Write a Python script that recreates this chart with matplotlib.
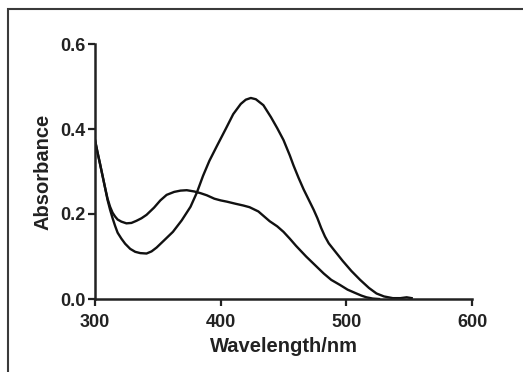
import numpy as np
import matplotlib
matplotlib.use("Agg")
from matplotlib import pyplot as plt
from matplotlib.patches import Rectangle

# spectrum with the big band at ~425 nm
wl_peak = [300, 302, 304, 306, 308, 310, 312, 314, 316, 318, 321, 324, 328, 332, 336,
           341, 345, 349, 355, 362, 369, 376, 381, 386, 391, 397, 404, 410, 416, 420,
           424, 428, 434, 440, 445, 450, 455, 458, 462, 466, 470, 474, 477, 480, 483,
           486, 490, 497, 504, 511, 518, 524, 530, 537, 543, 548, 552]
abs_peak = [0.374, 0.345, 0.318, 0.29, 0.262, 0.233, 0.21, 0.19, 0.172, 0.156, 0.142,
            0.13, 0.118, 0.111, 0.108, 0.107, 0.112, 0.121, 0.138, 0.158, 0.185, 0.217,
            0.25, 0.29, 0.325, 0.36, 0.4, 0.435, 0.459, 0.469, 0.473, 0.47, 0.456, 0.428,
            0.402, 0.374, 0.338, 0.314, 0.285, 0.258, 0.234, 0.21, 0.19, 0.167, 0.147,
            0.131, 0.116, 0.09, 0.066, 0.045, 0.026, 0.013, 0.006, 0.002, 0.002, 0.004,
            0.002]

# spectrum with the broad plateau
wl_flat = [300, 302, 304, 306, 308, 310, 312, 314, 316, 318, 321, 325, 329, 333, 337,
           341, 347, 352, 357, 363, 368, 373, 379, 384, 389, 395, 400, 405, 412, 418,
           423, 430, 439, 445, 450, 455, 460, 468, 475, 482, 488, 495, 501, 508, 512,
           516, 521, 526]
abs_flat = [0.374, 0.345, 0.318, 0.29, 0.262, 0.236, 0.217, 0.203, 0.194, 0.187, 0.182,
            0.178, 0.179, 0.184, 0.19, 0.198, 0.215, 0.232, 0.245, 0.252, 0.255, 0.256,
            0.253, 0.249, 0.244, 0.236, 0.232, 0.229, 0.224, 0.22, 0.216, 0.206, 0.183,
            0.171, 0.158, 0.142, 0.125, 0.1, 0.08, 0.06, 0.045, 0.033, 0.022, 0.013,
            0.008, 0.004, 0.001, 0.0]

xticks = [300, 400, 500, 600]
yticks = [0.0, 0.2, 0.4, 0.6]

plt.rcParams['font.family'] = ['Liberation Sans', 'DejaVu Sans']

fig = plt.figure(figsize=(5.23, 3.72), dpi=100)
# outer frame of the original figure (only left and top edges visible)
fig.patches.append(Rectangle((8 / 523, -0.2), 1.3, 1.2 - 9 / 372,
                             transform=fig.transFigure, fill=False,
                             edgecolor='#3a3a3a', lw=1.5))

ax = fig.add_axes([95 / 523, 73 / 372, 377 / 523, 255 / 372])
ax.plot(wl_peak, abs_peak, color='#111111', lw=1.7, solid_joinstyle='round')
ax.plot(wl_flat, abs_flat, color='#111111', lw=1.7, solid_joinstyle='round')

ax.set_xlim(300, 600)
ax.set_ylim(0, 0.6)
ax.set_xticks(xticks)
ax.set_yticks(yticks)
ax.set_xticklabels([str(t) for t in xticks], fontweight='bold', fontsize=13, color='#222222')
ax.set_yticklabels(['%.1f' % t for t in yticks], fontweight='bold', fontsize=13, color='#222222')
ax.tick_params(axis='x', direction='out', length=5, width=1.6, pad=6, color='#222222')
ax.tick_params(axis='y', direction='out', length=5, width=1.6, pad=2, color='#222222')

for s in ['top', 'right']:
    ax.spines[s].set_visible(False)
for s in ['left', 'bottom']:
    ax.spines[s].set_linewidth(1.8)
    ax.spines[s].set_color('#222222')
ax.patch.set_visible(False)

ax.set_xlabel('Wavelength/nm', fontweight='bold', fontsize=14.5, color='#222222', labelpad=4)
ax.set_ylabel('Absorbance', fontweight='bold', fontsize=14.5, color='#222222', labelpad=5)

fig.savefig('out.png', dpi=100)
